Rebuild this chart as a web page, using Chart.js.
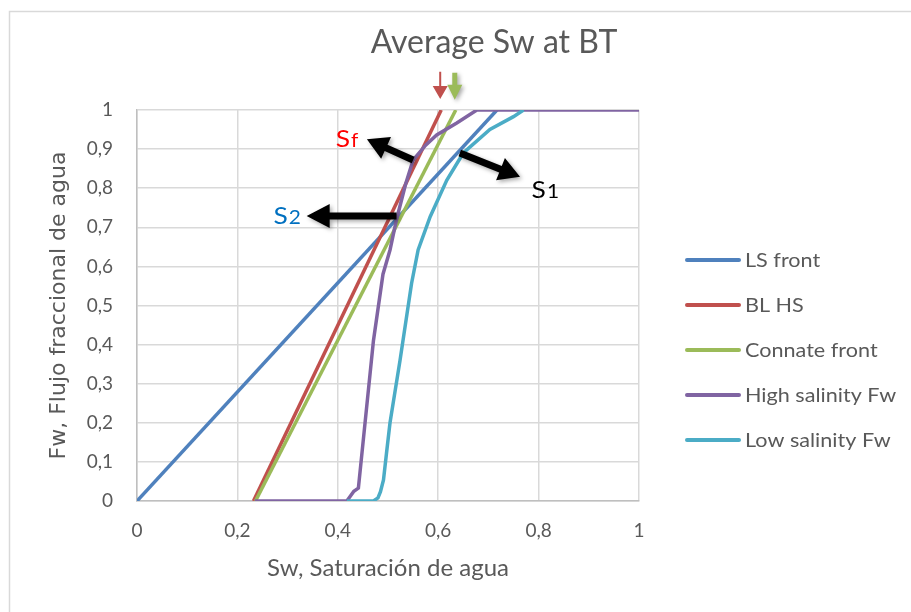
<!DOCTYPE html>
<html>
<head>
<meta charset="utf-8">
<script src="https://cdn.jsdelivr.net/npm/chart.js@4.4.1/dist/chart.umd.min.js"></script>
<style>
  body { margin: 0; background: #fff; }
  #wrap { width: 911px; height: 612px; position: relative; }
</style>
</head>
<body>
<div id="wrap"><canvas id="grafico"></canvas></div>
<script>
// Datos (Sw, Fw)
const lsFrontSw = [0, 0.717];
const lsFrontFw = [0, 1];

const blHsSw = [0.232, 0.606];
const blHsFw = [0, 1];

const connateSw = [0.236, 0.635];
const connateFw = [0, 1];

const highSalSw = [0.235, 0.418, 0.432, 0.441, 0.471, 0.490, 0.504, 0.517, 0.535, 0.550, 0.575, 0.597, 0.637, 0.677, 1];
const highSalFw = [0, 0, 0.025, 0.033, 0.41, 0.58, 0.642, 0.72, 0.81, 0.872, 0.91, 0.936, 0.967, 1, 1];

const lowSalSw = [0.418, 0.471, 0.480, 0.485, 0.491, 0.497, 0.504, 0.524, 0.547, 0.560, 0.584, 0.617, 0.650, 0.703, 0.750, 0.770];
const lowSalFw = [0, 0, 0.008, 0.024, 0.054, 0.122, 0.2, 0.36, 0.557, 0.642, 0.727, 0.82, 0.89, 0.95, 0.983, 1];

const seriesNames = ['LS front', 'BL HS', 'Connate front', 'High salinity Fw', 'Low salinity Fw'];
const seriesColors = ['#4F81BD', '#C0504D', '#9BBB59', '#8064A2', '#4BACC6'];

const xTickLabels = ['0', '0,2', '0,4', '0,6', '0,8', '1'];
const yTickLabels = ['0', '0,1', '0,2', '0,3', '0,4', '0,5', '0,6', '0,7', '0,8', '0,9', '1'];

// flechas y etiquetas (en coordenadas de datos)
const flechas = [
  { from: [0.550, 0.872], to: [0.458, 0.925], color: '#000', shaft: 7, headW: 24, headL: 21, shadow: true },
  { from: [0.643, 0.890], to: [0.763, 0.829], color: '#000', shaft: 7, headW: 24, headL: 21, shadow: true },
  { from: [0.517, 0.729], to: [0.338, 0.729], color: '#000', shaft: 7, headW: 24, headL: 23, shadow: true },
  { from: [0.604, 1.098], to: [0.604, 1.028], color: '#C0504D', shaft: 2, headW: 15, headL: 13, shadow: false },
  { from: [0.633, 1.095], to: [0.633, 1.026], color: '#9BBB59', shaft: 5, headW: 15, headL: 15, shadow: true }
];
const etiquetas = [
  { at: [0.396, 0.905], main: 'S', sub: 'f', color: '#FF0000' },
  { at: [0.786, 0.775], main: 'S', sub: '1', color: '#000000' },
  { at: [0.272, 0.708], main: 'S', sub: '2', color: '#0070C0' }
];

const FONT = "Lato, 'Open Sans', sans-serif";
Chart.defaults.font.family = FONT;
Chart.defaults.color = '#595959';

function puntos(xs, ys) {
  return xs.map((v, i) => ({ x: v, y: ys[i] }));
}

const allSeries = [
  puntos(lsFrontSw, lsFrontFw),
  puntos(blHsSw, blHsFw),
  puntos(connateSw, connateFw),
  puntos(highSalSw, highSalFw),
  puntos(lowSalSw, lowSalFw)
];

function dibujaFlecha(ctx, x1, y1, x2, y2, f) {
  const ang = Math.atan2(y2 - y1, x2 - x1);
  const len = Math.hypot(x2 - x1, y2 - y1);
  ctx.save();
  if (f.shadow) {
    ctx.shadowColor = 'rgba(0,0,0,0.35)';
    ctx.shadowBlur = 4;
    ctx.shadowOffsetX = 2;
    ctx.shadowOffsetY = 2;
  }
  ctx.translate(x1, y1);
  ctx.rotate(ang);
  ctx.fillStyle = f.color;
  ctx.beginPath();
  ctx.moveTo(0, -f.shaft / 2);
  ctx.lineTo(len - f.headL, -f.shaft / 2);
  ctx.lineTo(len - f.headL, -f.headW / 2);
  ctx.lineTo(len, 0);
  ctx.lineTo(len - f.headL, f.headW / 2);
  ctx.lineTo(len - f.headL, f.shaft / 2);
  ctx.lineTo(0, f.shaft / 2);
  ctx.closePath();
  ctx.fill();
  ctx.restore();
}

// texto algo ensanchado, como en la imagen original
function textoAncho(ctx, txt, x, y, sx) {
  ctx.save();
  ctx.translate(x, y);
  ctx.scale(sx, 1);
  ctx.fillText(txt, 0, 0);
  ctx.restore();
  return ctx.measureText(txt).width * sx;
}

const extras = {
  id: 'extras',
  beforeDraw(chart) {
    const ctx = chart.ctx;
    ctx.save();
    ctx.fillStyle = '#fff';
    ctx.fillRect(0, 0, chart.width, chart.height);
    ctx.strokeStyle = '#d9d9d9';
    ctx.lineWidth = 1.5;
    ctx.strokeRect(9.5, 11.5, chart.width + 20, chart.height + 20);
    ctx.restore();
  },
  afterDraw(chart) {
    const { ctx, scales: { x, y } } = chart;
    ctx.save();
    // titulo
    ctx.fillStyle = '#595959';
    ctx.font = '32px ' + FONT;
    ctx.textAlign = 'center';
    ctx.textBaseline = 'alphabetic';
    ctx.fillText('Average Sw at BT', 494, 53);

    // leyenda
    ctx.textAlign = 'left';
    ctx.font = '20px ' + FONT;
    chart.data.datasets.forEach((ds, i) => {
      const ly = 260 + 45 * i;
      ctx.strokeStyle = ds.borderColor;
      ctx.lineWidth = 4;
      ctx.lineCap = 'round';
      ctx.beginPath();
      ctx.moveTo(687, ly);
      ctx.lineTo(739, ly);
      ctx.stroke();
      ctx.fillStyle = '#595959';
      textoAncho(ctx, ds.label, 745, ly + 7, 1.08);
    });

    // flechas
    flechas.forEach(f => {
      dibujaFlecha(ctx,
        x.getPixelForValue(f.from[0]), y.getPixelForValue(f.from[1]),
        x.getPixelForValue(f.to[0]), y.getPixelForValue(f.to[1]), f);
    });

    // etiquetas S
    etiquetas.forEach(e => {
      const px = x.getPixelForValue(e.at[0]);
      const py = y.getPixelForValue(e.at[1]);
      ctx.fillStyle = e.color;
      ctx.font = '24px ' + FONT;
      const w = textoAncho(ctx, e.main, px, py, 1.1);
      ctx.font = '19px ' + FONT;
      textoAncho(ctx, e.sub, px + w + 1, py, 1.1);
    });
    ctx.restore();
  }
};

new Chart(document.getElementById('grafico'), {
  type: 'scatter',
  data: {
    datasets: allSeries.map((pts, i) => ({
      label: seriesNames[i],
      data: pts,
      showLine: true,
      borderColor: seriesColors[i],
      backgroundColor: seriesColors[i],
      borderWidth: 3.5,
      pointRadius: 0,
      tension: 0,
      order: allSeries.length - i
    }))
  },
  options: {
    responsive: true,
    maintainAspectRatio: false,
    animation: false,
    layout: { padding: { top: 110, right: 272, left: 0, bottom: 0 } },
    plugins: {
      legend: { display: false },
      title: { display: false },
      tooltip: { enabled: false }
    },
    scales: {
      x: {
        type: 'linear',
        min: 0,
        max: 1,
        afterFit(s) { s.height = 111; },
        ticks: {
          stepSize: 0.2,
          padding: 18,
          color: '#595959',
          font: { size: 19 },
          callback: v => xTickLabels[Math.round(v * 5)]
        },
        grid: { color: '#d9d9d9', lineWidth: 1.5, drawTicks: false },
        border: { color: '#bfbfbf', width: 1.5 },
        title: {
          display: true,
          text: 'Sw, Saturación de agua',
          color: '#595959',
          font: { size: 24 },
          padding: { top: 0, bottom: 29 }
        }
      },
      y: {
        type: 'linear',
        min: 0,
        max: 1,
        afterFit(s) { s.width = 137; },
        ticks: {
          stepSize: 0.1,
          padding: 24,
          color: '#595959',
          font: { size: 19 },
          callback: v => yTickLabels[Math.round(v * 10)]
        },
        grid: { color: '#d9d9d9', lineWidth: 1.5, drawTicks: false },
        border: { color: '#bfbfbf', width: 1.5 },
        title: {
          display: true,
          text: 'Fw, Flujo fraccional de agua',
          color: '#595959',
          font: { size: 22, family: "'DejaVu Sans', sans-serif" },
          padding: { top: 46, bottom: 0 }
        }
      }
    }
  },
  plugins: [extras]
});
</script>
</body>
</html>
